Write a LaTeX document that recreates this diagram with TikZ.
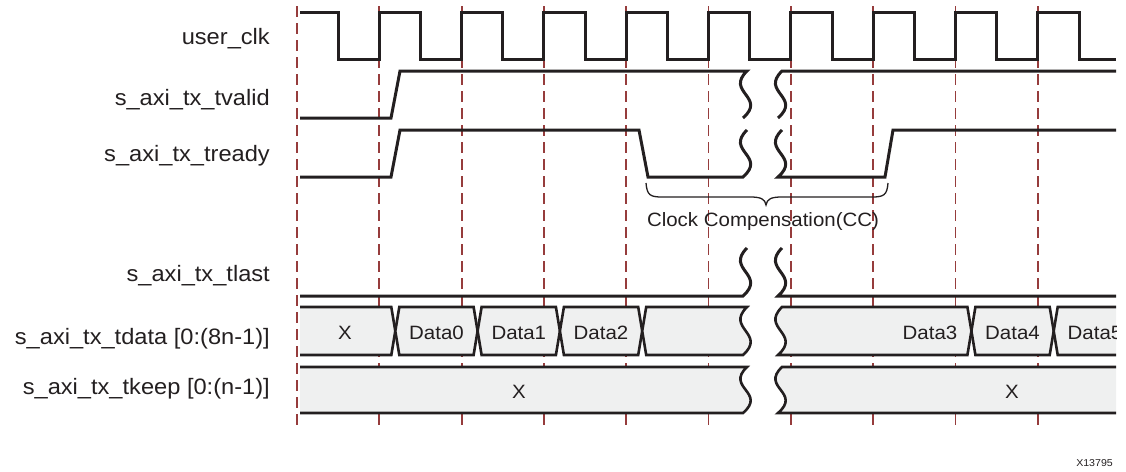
\documentclass[tikz,border=0pt]{standalone}
\usepackage{fontspec}
\setmainfont{Liberation Sans}
\newfontfamily\wavefont[FakeStretch=1.06]{Liberation Sans}
\definecolor{ink}{RGB}{35,31,32}
\definecolor{gridc}{RGB}{150,60,60}
\definecolor{busc}{RGB}{239,240,240}
\begin{document}
\begin{tikzpicture}[x=1pt,y=-1pt,
  sig/.style={draw=ink, line width=3pt, line join=miter},
  busline/.style={draw=ink, line width=2.6pt, line join=miter},
  busfill/.style={fill=busc},
  gridline/.style={draw=gridc, line width=1.8pt, dash pattern=on 11pt off 6pt},
  lbl/.style={anchor=base east, font=\wavefont\fontsize{22.3}{26}\selectfont, text=ink, inner sep=0pt},
  val/.style={anchor=base, font=\wavefont\fontsize{19.3}{23}\selectfont, text=ink, inner sep=0pt},
  brc/.style={draw=ink, line width=1.3pt},
  tag/.style={anchor=base east, font=\wavefont\fontsize{10}{12}\selectfont, text=ink, inner sep=0pt}]
\useasboundingbox (0,0) rectangle (1126,471);

% grid
\foreach \gx in {297,379.3,461.6,543.9,626.2,708.5,790.8,873.1,955.4,1037.7}
  \draw[gridline] (\gx,6) -- (\gx,426);

% labels
\node[lbl] (lclk)   at (270,44)    {user\_clk};
\node[lbl] (lvalid) at (270,105)   {s\_axi\_tx\_tvalid};
\node[lbl] (lready) at (270,161.7) {s\_axi\_tx\_tready};
\node[lbl] (llast)  at (270,281.7) {s\_axi\_tx\_tlast};
\node[lbl] (ldata)  at (270,344)   {s\_axi\_tx\_tdata [0:(8n-1)]};
\node[lbl] (lkeep)  at (270,394)   {s\_axi\_tx\_tkeep [0:(n-1)]};

% clock
\draw[sig] (300,12) -- (338.3,12) -- (338.3,59) -- (379.3,59)
  -- (379.3,12) -- (420.6,12) -- (420.6,59) -- (461.6,59)
  -- (461.6,12) -- (502.9,12) -- (502.9,59) -- (543.9,59)
  -- (543.9,12) -- (585.2,12) -- (585.2,59) -- (626.2,59)
  -- (626.2,12) -- (667.5,12) -- (667.5,59) -- (708.5,59)
  -- (708.5,12) -- (749.8,12) -- (749.8,59) -- (790.8,59)
  -- (790.8,12) -- (832.1,12) -- (832.1,59) -- (873.1,59)
  -- (873.1,12) -- (914.4,12) -- (914.4,59) -- (955.4,59)
  -- (955.4,12) -- (996.7,12) -- (996.7,59) -- (1037.7,59)
  -- (1037.7,12) -- (1079,12) -- (1079,59) -- (1116,59);

% tvalid
\draw[sig] (300,118) -- (391,118) -- (400,71) -- (747,71)
  .. controls (725,92.2) and (767,96.9) .. (743,118);
\draw[sig] (778,118) .. controls (802,96.9) and (760,92.2) .. (782,71) -- (1116,71);

% tready
\draw[sig] (300,177) -- (391,177) -- (400,130) -- (639,130) -- (648,177) -- (743,177)
  .. controls (767,155.9) and (725,151.2) .. (747,130);
\draw[sig] (782,130) .. controls (760,151.2) and (802,155.9) .. (778,177)
  -- (885,177) -- (893,130) -- (1116,130);

% brace
\draw[brc] (646,183) .. controls (647,195) and (650,197) .. (662,197) -- (750,197)
  .. controls (761,197) and (765,199) .. (766,205)
  .. controls (767,199) and (771,197) .. (782,197) -- (872,197)
  .. controls (884,197) and (887,195) .. (888,183);
\node[val] (cc) at (763,226.7) {Clock Compensation(CC)};

% tlast
\draw[sig] (300,296) -- (743,296) .. controls (767,274.4) and (725,269.6) .. (747,248);
\draw[sig] (782,248) .. controls (760,269.6) and (802,274.4) .. (778,296) -- (1116,296);

% tdata
\fill[busfill] (300,307) -- (391.3,307) -- (395.3,331) -- (391.3,355) -- (300,355) -- cycle;
\draw[busline] (300,307) -- (391.3,307) -- (395.3,331) -- (391.3,355) -- (300,355);
\filldraw[busfill,busline] (399.3,307) -- (473.6,307) -- (477.6,331) -- (473.6,355) -- (399.3,355) -- (395.3,331) -- cycle;
\filldraw[busfill,busline] (481.6,307) -- (555.9,307) -- (559.9,331) -- (555.9,355) -- (481.6,355) -- (477.6,331) -- cycle;
\filldraw[busfill,busline] (563.9,307) -- (638.2,307) -- (642.2,331) -- (638.2,355) -- (563.9,355) -- (559.9,331) -- cycle;
\filldraw[busfill,busline] (646.2,307) -- (747,307) .. controls (725,328.6) and (767,333.4) .. (743,355)
  -- (646.2,355) -- (642.2,331) -- cycle;
\filldraw[busfill,busline] (782,307) -- (967.4,307) -- (971.4,331) -- (967.4,355) -- (778,355)
  .. controls (802,333.4) and (760,328.6) .. (782,307) -- cycle;
\filldraw[busfill,busline] (975.4,307) -- (1049.7,307) -- (1053.7,331) -- (1049.7,355) -- (975.4,355) -- (971.4,331) -- cycle;
\fill[busfill] (1057.7,307) -- (1116,307) -- (1116,355) -- (1057.7,355) -- (1053.7,331) -- cycle;
\draw[busline] (1116,307) -- (1057.7,307) -- (1053.7,331) -- (1057.7,355) -- (1116,355);

\node[val] (dx)  at (345,339)    {X};
\node[val] (d0)  at (436.5,339)  {Data0};
\node[val] (d1)  at (518.8,339)  {Data1};
\node[val] (d2)  at (601,339)    {Data2};
\node[val] (d3)  at (930,339)    {Data3};
\node[val] (d4)  at (1012.5,339) {Data4};
\begin{scope}
  \clip (0,0) rectangle (1116,471);
  \node[val] (d5) at (1095,339) {Data5};
\end{scope}

% tkeep
\fill[busfill] (300,367) -- (747,367) .. controls (725,387.7) and (767,392.3) .. (743,413) -- (300,413) -- cycle;
\draw[busline] (300,367) -- (747,367) .. controls (725,387.7) and (767,392.3) .. (743,413) -- (300,413);
\fill[busfill] (1116,367) -- (782,367) .. controls (760,387.7) and (802,392.3) .. (778,413) -- (1116,413) -- cycle;
\draw[busline] (1116,367) -- (782,367) .. controls (760,387.7) and (802,392.3) .. (778,413) -- (1116,413);
\node[val] (kx1) at (519,398)  {X};
\node[val] (kx2) at (1012,398) {X};

% tag
\node[tag] (fig) at (1113,466) {X13795};
\end{tikzpicture}
\end{document}
